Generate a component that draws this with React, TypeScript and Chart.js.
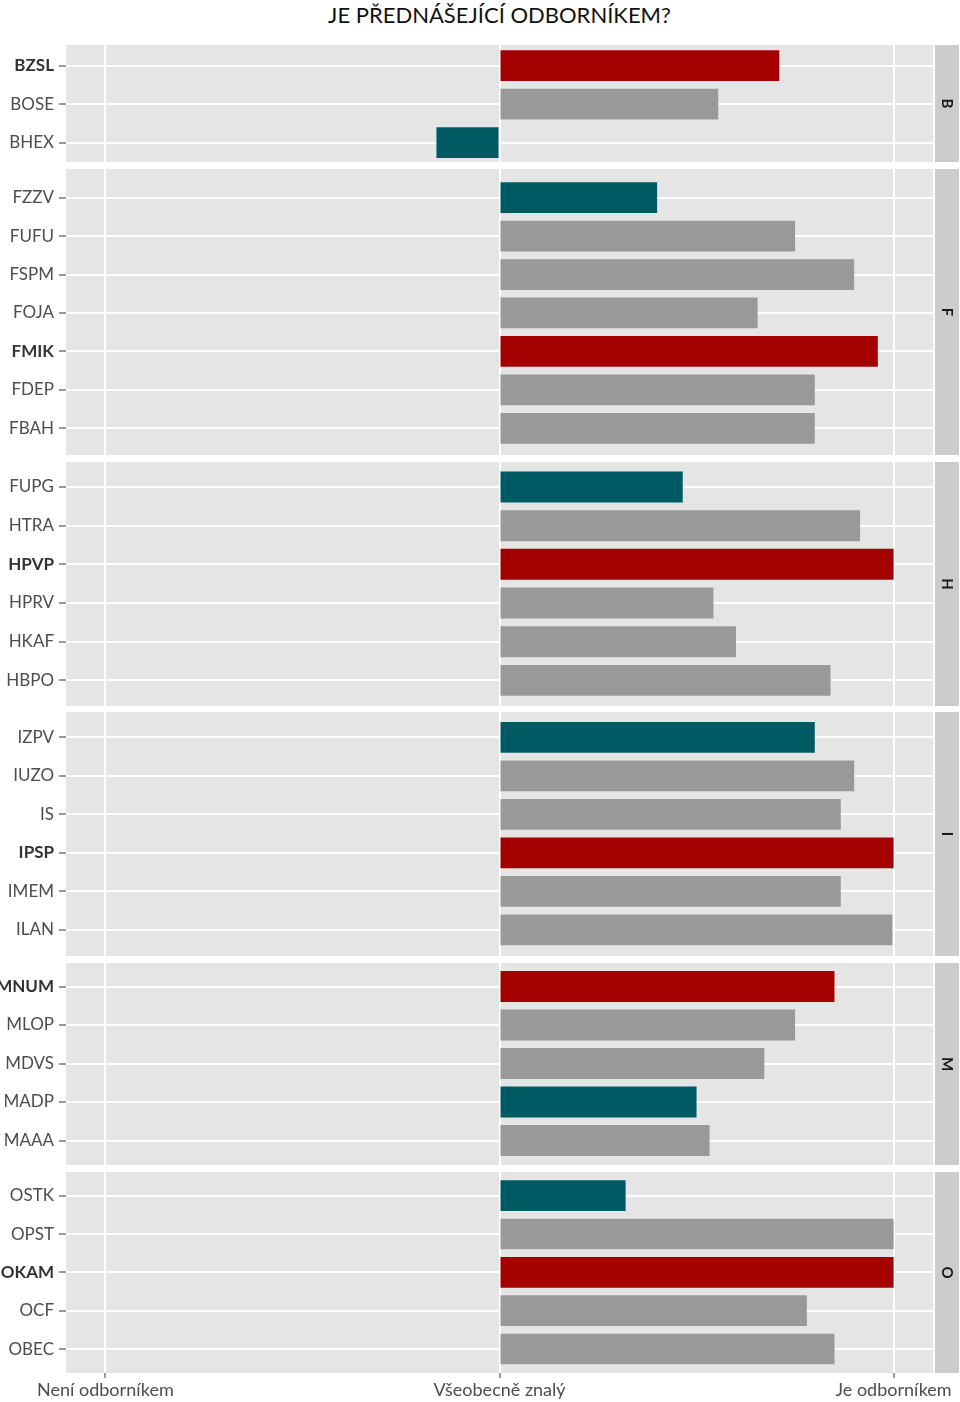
import React, { useEffect, useRef } from "react";
import { Chart, registerables } from "chart.js";

Chart.register(...registerables);

// ---------- DATA ----------
const chartTitle = "JE PŘEDNÁŠEJÍCÍ ODBORNÍKEM?";

const facetNames = ["B", "F", "H", "I", "M", "O"];

const catsB = ["BZSL", "BOSE", "BHEX"];
const valsB = [0.71, 0.555, -0.16];
const roleB = ["hl", "base", "alt"];

const catsF = ["FZZV", "FUFU", "FSPM", "FOJA", "FMIK", "FDEP", "FBAH"];
const valsF = [0.4, 0.75, 0.9, 0.655, 0.96, 0.8, 0.8];
const roleF = ["alt", "base", "base", "base", "hl", "base", "base"];

const catsH = ["FUPG", "HTRA", "HPVP", "HPRV", "HKAF", "HBPO"];
const valsH = [0.465, 0.915, 1.0, 0.543, 0.6, 0.84];
const roleH = ["alt", "base", "hl", "base", "base", "base"];

const catsI = ["IZPV", "IUZO", "IS", "IPSP", "IMEM", "ILAN"];
const valsI = [0.8, 0.9, 0.866, 1.0, 0.866, 0.997];
const roleI = ["alt", "base", "base", "hl", "base", "base"];

const catsM = ["MNUM", "MLOP", "MDVS", "MADP", "MAAA"];
const valsM = [0.85, 0.75, 0.672, 0.5, 0.533];
const roleM = ["hl", "base", "base", "alt", "base"];

const catsO = ["OSTK", "OPST", "OKAM", "OCF", "OBEC"];
const valsO = [0.32, 1.0, 1.0, 0.78, 0.85];
const roleO = ["alt", "base", "hl", "base", "base"];

const xMajorValues = [-1, 0, 1];
const xMajorLabels = ["Není odborníkem", "Všeobecně znalý", "Je odborníkem"];
const xMinorValues = [-0.5, 0.5];

// ---------- STYLE / LAYOUT ----------
const COLORS: Record<string, string> = {
  hl: "#A50000",
  alt: "#005A64",
  base: "#999999",
};
const FONT = "Lato, 'Open Sans', 'DejaVu Sans', sans-serif";
const PANEL_BG = "#E5E5E5";
const STRIP_BG = "#CCCCCC";

const facets = [
  { name: facetNames[0], cats: catsB, vals: valsB, roles: roleB, top: 45, height: 117, off: 20.7, row: 38.5 },
  { name: facetNames[1], cats: catsF, vals: valsF, roles: roleF, top: 169, height: 286, off: 28.7, row: 38.43 },
  { name: facetNames[2], cats: catsH, vals: valsH, roles: roleH, top: 462, height: 244, off: 25.0, row: 38.67 },
  { name: facetNames[3], cats: catsI, vals: valsI, roles: roleI, top: 712, height: 244, off: 25.3, row: 38.52 },
  { name: facetNames[4], cats: catsM, vals: valsM, roles: roleM, top: 963, height: 202, off: 23.5, row: 38.5 },
  { name: facetNames[5], cats: catsO, vals: valsO, roles: roleO, top: 1172, height: 201, off: 23.7, row: 38.33 },
];

const X_AXIS_H = 30;

type FacetProps = {
  name: string;
  cats: string[];
  vals: number[];
  roles: string[];
  top: number;
  height: number;
  off: number;
  row: number;
  isLast: boolean;
};

const tv = (c: any): number => (c && c.tick && typeof c.tick.value === "number" ? c.tick.value : NaN);
const isInt = (v: number) => Number.isFinite(v) && Math.abs(v - Math.round(v)) < 1e-9;

function Panel(p: FacetProps) {
  const ref = useRef<HTMLCanvasElement | null>(null);
  useEffect(() => {
    if (!ref.current) return;
    const n = p.cats.length;
    const yMin = -p.off / p.row;
    const yMax = yMin + p.height / p.row;
    const isHl = (v: number) => isInt(v) && p.roles[Math.round(v)] === "hl";

    const bgPlugin = {
      id: "panelBg",
      beforeDraw(chart: any) {
        const { ctx, chartArea: a } = chart;
        ctx.save();
        ctx.fillStyle = PANEL_BG;
        ctx.fillRect(a.left, a.top, a.right - a.left, a.bottom - a.top);
        ctx.restore();
      },
    };
    const stripPlugin = {
      id: "strip",
      afterDraw(chart: any) {
        const { ctx, chartArea: a } = chart;
        ctx.save();
        ctx.fillStyle = STRIP_BG;
        ctx.fillRect(a.right + 2, a.top, 24, a.bottom - a.top);
        ctx.translate(a.right + 2 + 12, (a.top + a.bottom) / 2);
        ctx.rotate(Math.PI / 2);
        ctx.fillStyle = "#1A1A1A";
        ctx.font = `bold 15px ${FONT}`;
        ctx.textAlign = "center";
        ctx.textBaseline = "middle";
        ctx.fillText(p.name, 0, 0);
        ctx.restore();
      },
    };

    let chart: Chart | null = null;
    try {
      chart = new Chart(ref.current, {
        type: "bar",
        data: {
          datasets: [
            {
              data: p.cats.map((c, i) => ({ x: p.vals[i], y: i })),
              backgroundColor: p.roles.map((r) => COLORS[r]),
              borderWidth: 0,
              barPercentage: 0.8,
              categoryPercentage: 1,
            } as any,
          ],
        },
        options: {
          indexAxis: "y",
          responsive: false,
          animation: false,
          layout: { padding: { left: 0, right: 27, top: 0, bottom: 0 } },
          plugins: {
            legend: { display: false },
            tooltip: { enabled: false },
            title: { display: false },
          },
          scales: {
            x: {
              type: "linear",
              min: -1.1,
              max: 1.1,
              offset: false,
              afterBuildTicks: (s: any) => {
                s.ticks = [...xMajorValues, ...xMinorValues]
                  .sort((a, b) => a - b)
                  .map((v) => ({ value: v }));
              },
              afterFit: (s: any) => {
                s.height = p.isLast ? X_AXIS_H : 0;
                s.paddingLeft = 0;
                s.paddingRight = 0;
                s.paddingTop = 0;
                s.paddingBottom = 0;
              },
              border: { display: false },
              grid: {
                offset: false,
                color: (c: any) => (isInt(tv(c)) ? "#FFFFFF" : "#F2F2F2"),
                lineWidth: (c: any) => (isInt(tv(c)) ? 2 : 1),
                drawTicks: p.isLast,
                tickLength: 5,
                tickWidth: 1,
                tickColor: (c: any) => (isInt(tv(c)) ? "#333333" : "rgba(0,0,0,0)"),
              },
              ticks: {
                display: p.isLast,
                autoSkip: false,
                maxRotation: 0,
                minRotation: 0,
                padding: 1,
                color: "#4D4D4D",
                font: { family: FONT, size: 18 },
                callback: (v: any) => {
                  const k = xMajorValues.indexOf(Number(v));
                  return k >= 0 ? xMajorLabels[k] : null;
                },
              },
            },
            y: {
              type: "linear",
              reverse: true,
              min: yMin,
              max: yMax,
              offset: false,
              bounds: "data",
              afterBuildTicks: (s: any) => {
                const t: { value: number }[] = [];
                for (let v = -0.5; v <= n - 0.5 + 1e-9; v += 0.5) {
                  if (v >= yMin - 1e-9 && v <= yMax + 1e-9) t.push({ value: v });
                }
                s.ticks = t;
              },
              afterDataLimits: (s: any) => {
                s.min = yMin;
                s.max = yMax;
              },
              afterFit: (s: any) => {
                s.width = 66;
                s.paddingTop = 0;
                s.paddingBottom = 0;
                s.paddingLeft = 0;
                s.paddingRight = 0;
              },
              border: { display: false },
              grid: {
                offset: false,
                color: (c: any) => (isInt(tv(c)) ? "#FFFFFF" : "#F2F2F2"),
                lineWidth: (c: any) => (isInt(tv(c)) ? 2 : 1),
                drawTicks: true,
                tickLength: 7,
                tickWidth: 1,
                tickColor: (c: any) => (isInt(tv(c)) ? "#333333" : "rgba(0,0,0,0)"),
              },
              ticks: {
                autoSkip: false,
                padding: 5,
                color: (c: any) => (isHl(tv(c)) ? "#333333" : "#4D4D4D"),
                font: (c: any) => ({
                  family: FONT,
                  size: 17,
                  weight: isHl(tv(c)) ? "bold" : "normal",
                }),
                callback: (v: any) => {
                  const num = Number(v);
                  return isInt(num) && num >= 0 && num < n ? p.cats[Math.round(num)] : null;
                },
              },
            },
          },
        } as any,
        plugins: [bgPlugin, stripPlugin],
      });
    } catch (e) {
      console.error(e);
    }
    return () => {
      if (chart) chart.destroy();
    };
  }, []);

  const h = p.height + (p.isLast ? X_AXIS_H : 0);
  return (
    <div style={{ position: "absolute", left: 0, top: p.top, width: 960, height: h }}>
      <canvas ref={ref} width={960} height={h} style={{ display: "block", width: 960, height: h }} />
    </div>
  );
}

export default function App() {
  return (
    <div
      style={{
        position: "absolute",
        left: 0,
        top: 0,
        width: 960,
        height: 1402,
        background: "#FFFFFF",
        overflow: "hidden",
      }}
    >
      <div
        style={{
          position: "absolute",
          left: 66,
          top: 0,
          width: 867,
          textAlign: "center",
          fontFamily: FONT,
          fontSize: 22,
          lineHeight: "30px",
          color: "#111111",
        }}
      >
        {chartTitle}
      </div>
      {facets.map((f, i) => (
        <Panel key={f.name} {...f} isLast={i === facets.length - 1} />
      ))}
    </div>
  );
}
